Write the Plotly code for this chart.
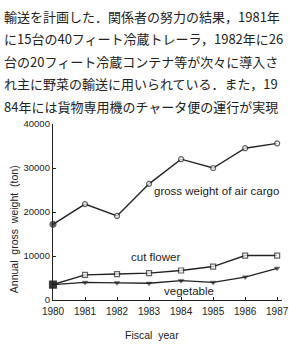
import plotly.graph_objects as go

years = [1980, 1981, 1982, 1983, 1984, 1985, 1986, 1987]
air_cargo = [17200, 21800, 19100, 26400, 32000, 30000, 34500, 35600]
cut_flower = [3500, 5700, 5900, 6100, 6700, 7600, 10100, 10100]
vegetable = [3500, 4000, 3900, 3800, 4400, 4000, 5200, 7200]
y_ticks = [0, 10000, 20000, 30000, 40000]
text_lines = [
    "輸送を計画した．関係者の努力の結果，1981年",
    "に15台の40フィート冷蔵トレーラ，1982年に26",
    "台の20フィート冷蔵コンテナ等が次々に導入さ",
    "れ主に野菜の輸送に用いられている．また，19",
    "84年には貨物専用機のチャータ便の運行が実現",
]
series_labels = ["gross weight of air cargo", "cut flower", "vegetable"]

W, H = 289, 355
L, R, T, B = 53, 0, 124, 55
INK = "#222222"


def px(x):
    return (x - L) / (W - L - R)


def py(y):
    return (H - B - y) / (H - T - B)


fig = go.Figure()

n = len(years)
fig.add_trace(go.Scatter(
    x=years, y=air_cargo, mode="lines+markers", cliponaxis=False,
    line=dict(color=INK, width=1.4),
    marker=dict(symbol="circle", size=[6] + [5] * (n - 1),
                color=[INK] + ["white"] * (n - 1),
                line=dict(color=INK, width=1.2)),
    showlegend=False))
fig.add_trace(go.Scatter(
    x=years, y=cut_flower, mode="lines+markers", cliponaxis=False,
    line=dict(color=INK, width=1.4),
    marker=dict(symbol="square", size=[7] + [5] * (n - 1),
                color=[INK] + ["white"] * (n - 1),
                line=dict(color=INK, width=1.2)),
    showlegend=False))
fig.add_trace(go.Scatter(
    x=years, y=vegetable, mode="lines+markers", cliponaxis=False,
    line=dict(color=INK, width=1.4),
    marker=dict(symbol=["square"] + ["triangle-down"] * (n - 1),
                size=[7] + [5] * (n - 1), color=INK,
                line=dict(color=INK, width=0.5)),
    showlegend=False))

ann = []
for i, t in enumerate(text_lines):
    ann.append(dict(text=t, x=px(0), y=py(16 + 22.5 * i), xref="paper", yref="paper",
                    xanchor="left", yanchor="middle", showarrow=False,
                    font=dict(family="Noto Sans CJK JP", size=13, color=INK)))
label_pos = [(155, 191), (131, 257), (165, 291)]
for lab, (lx, ly) in zip(series_labels, label_pos):
    ann.append(dict(text=lab, x=px(lx), y=py(ly), xref="paper", yref="paper",
                    xanchor="left", yanchor="middle", showarrow=False,
                    font=dict(family="Liberation Sans, Arial", size=11.5, color=INK)))
ann.append(dict(text="Annual  gross  weight  (ton)", x=px(13), y=py(229), xref="paper",
                yref="paper", xanchor="center", yanchor="middle", textangle=-90,
                showarrow=False,
                font=dict(family="Liberation Sans, Arial", size=10.5, color=INK)))
ann.append(dict(text="Fiscal  year", x=px(155), y=py(335), xref="paper", yref="paper",
                xanchor="center", yanchor="middle", showarrow=False,
                font=dict(family="Liberation Sans, Arial", size=10.5, color=INK)))

x_span = (W - L - R) / 33.0

fig.update_layout(
    width=W, height=H,
    margin=dict(l=L, r=R, t=T, b=B, pad=0),
    paper_bgcolor="white", plot_bgcolor="white",
    annotations=ann,
    xaxis=dict(range=[years[0], years[0] + x_span], tickvals=years,
               ticktext=[str(v) for v in years], showgrid=False, zeroline=False,
               showline=True, linecolor=INK, linewidth=1.3,
               ticks="inside", ticklen=3, tickcolor=INK, ticklabeloverflow="allow",
               ticklabelstandoff=2,
               tickfont=dict(family="Liberation Sans, Arial", size=10, color=INK)),
    yaxis=dict(range=[0, 40000], tickvals=y_ticks, ticktext=[str(v) for v in y_ticks],
               showgrid=False, zeroline=False, showline=True, linecolor=INK,
               linewidth=1.3, ticks="inside", ticklen=3, tickcolor=INK,
               tickfont=dict(family="Liberation Sans, Arial", size=9.5, color=INK)),
)

fig.write_html("out.html")
